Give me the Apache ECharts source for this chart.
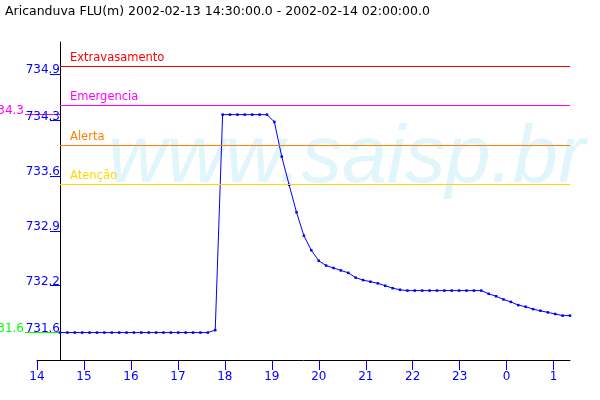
<!DOCTYPE html>
<html><head><meta charset="utf-8">
<script src="https://cdn.jsdelivr.net/npm/echarts@6/dist/echarts.min.js"></script>
<style>html,body{margin:0;padding:0;background:#fff}#c{width:600px;height:400px}</style>
</head><body><div id="c"></div>
<script>
const titleText = 'Aricanduva FLU(m) 2002-02-13 14:30:00.0 - 2002-02-14 02:00:00.0';
const watermark = 'www.saisp.br';
const times = [
  '14:30','14:40','14:50',
  '15:00','15:10','15:20','15:30','15:40','15:50',
  '16:00','16:10','16:20','16:30','16:40','16:50',
  '17:00','17:10','17:20','17:30','17:40','17:50',
  '18:00','18:10','18:20','18:30','18:40','18:50',
  '19:00','19:10','19:20','19:30','19:40','19:50',
  '20:00','20:10','20:20','20:30','20:40','20:50',
  '21:00','21:10','21:20','21:30','21:40','21:50',
  '22:00','22:10','22:20','22:30','22:40','22:50',
  '23:00','23:10','23:20','23:30','23:40','23:50',
  '00:00','00:10','00:20','00:30','00:40','00:50',
  '01:00','01:10','01:20','01:30','01:40','01:50',
  '02:00'
];
const levels = [
  731.6,731.6,731.6,
  731.6,731.6,731.6,731.6,731.6,731.6,
  731.6,731.6,731.6,731.6,731.6,731.6,
  731.6,731.6,731.6,731.6,731.6,731.6,
  731.63,734.3,734.3,734.3,734.3,734.3,
  734.3,734.3,734.21,733.78,733.43,733.09,
  732.80,732.62,732.49,732.43,732.40,732.37,
  732.34,732.28,732.25,732.23,732.21,732.18,
  732.15,732.13,732.12,732.12,732.12,732.12,
  732.12,732.12,732.12,732.12,732.12,732.12,
  732.12,732.08,732.05,732.01,731.98,731.94,
  731.92,731.89,731.87,731.85,731.83,731.81,
  731.81
];
const thresholdNames = ['Extravasamento','Emergencia','Alerta','Atenção'];
const thresholdValues = [734.9, 734.42, 733.92, 733.44];
const thresholdColors = ['#ff0000','#ff00ff','#ff8000','#ffd800'];
const yTickValues = [731.6, 732.18, 732.86, 733.54, 734.225, 734.8];
const yTickLabels = ['731.6','732.2','732.9','733.6','734.3','734.9'];
const hourTickValues = [14,15,16,17,18,19,20,21,22,23,24,25];
const hourTickLabels = ['14','15','16','17','18','19','20','21','22','23','0','1'];

const FONT = 'DejaVu Sans';
const BLUE = '#0000ff';
function toHours(t){ const p=t.split(':').map(Number); let v=p[0]+p[1]/60; if(v<12) v+=24; return v; }
const pts = times.map((t,i)=>[toHours(t), levels[i]]);
const maxV = Math.max.apply(null, levels);
const minV = Math.min.apply(null, levels);
const startH = toHours(times[0]), endH = toHours(times[times.length-1]);
const Y_MIN = 731.26, Y_MAX = 735.2;

function labelFor(values, labels){
  return function(v){
    let best=0, d=Infinity;
    values.forEach((x,i)=>{ const dd=Math.abs(x-v); if(dd<d){d=dd;best=i;} });
    return labels[best];
  };
}
function sideAxis(values, color, fmt, tickLen, margin, showLine){
  return {
    type:'value', position:'left', min:Y_MIN, max:Y_MAX, offset:-23,
    axisLine:{show:showLine, onZero:false, lineStyle:{color:'#000', width:1}},
    axisTick:{show:true, customValues:values, length:tickLen, lineStyle:{color:color, width:1}},
    axisLabel:{show:true, customValues:values, formatter:fmt, color:color, margin:margin,
      fontSize:12, fontFamily:FONT, verticalAlign:'bottom', lineHeight:8},
    splitLine:{show:false}
  };
}

const chart = echarts.init(document.getElementById('c'), null, {renderer:'canvas'});
chart.setOption({
  animation:false,
  backgroundColor:'#fff',
  title:[
    {text:titleText, left:5, top:5, padding:0,
     textStyle:{fontSize:12.5, fontWeight:'normal', fontFamily:FONT, color:'#000'}},
    {text:watermark, left:108, top:119, padding:0, z:1,
     textStyle:{fontSize:81, fontWeight:'normal', fontStyle:'italic', fontFamily:'Liberation Sans', color:'#e1f5fd'}}
  ],
  grid:{left:37, right:30, top:42, bottom:40, outerBoundsMode:'none', containLabel:false},
  xAxis:[
    {type:'value', show:false, min:13.981, max:26.0},
    {type:'value', position:'bottom', min:14, max:25.348,
     axisLine:{show:true, onZero:false, lineStyle:{color:'#000', width:1}},
     axisTick:{show:true, customValues:hourTickValues, length:10, lineStyle:{color:BLUE, width:1}},
     axisLabel:{show:true, customValues:hourTickValues, formatter:labelFor(hourTickValues, hourTickLabels),
       color:BLUE, fontSize:12, fontFamily:FONT, margin:11},
     splitLine:{show:false}}
  ],
  yAxis:[
    sideAxis(yTickValues, BLUE, labelFor(yTickValues, yTickLabels), 10, 0, true),
    sideAxis([maxV], '#ff00ff', v=>v.toFixed(1), 35, 36, false),
    sideAxis([minV], '#00ff00', v=>v.toFixed(1), 35, 36, false)
  ],
  series:[{
    type:'line', xAxisIndex:0, yAxisIndex:0, data:pts,
    symbol:'rect', symbolSize:2.5, showSymbol:true,
    lineStyle:{color:BLUE, width:1}, itemStyle:{color:BLUE},
    emphasis:{disabled:true}, z:3,
    markLine:{
      silent:true, symbol:'none', animation:false,
      label:{show:true, position:'insideStartTop', distance:[10,2], fontSize:11.5, fontFamily:FONT},
      data: thresholdNames.map((n,i)=>[
        {coord:[startH, thresholdValues[i]], lineStyle:{color:thresholdColors[i], width:1, type:'solid'},
         label:{formatter:n, color:thresholdColors[i]}},
        {coord:[endH, thresholdValues[i]]}
      ])
    }
  }]
});
</script></body></html>
